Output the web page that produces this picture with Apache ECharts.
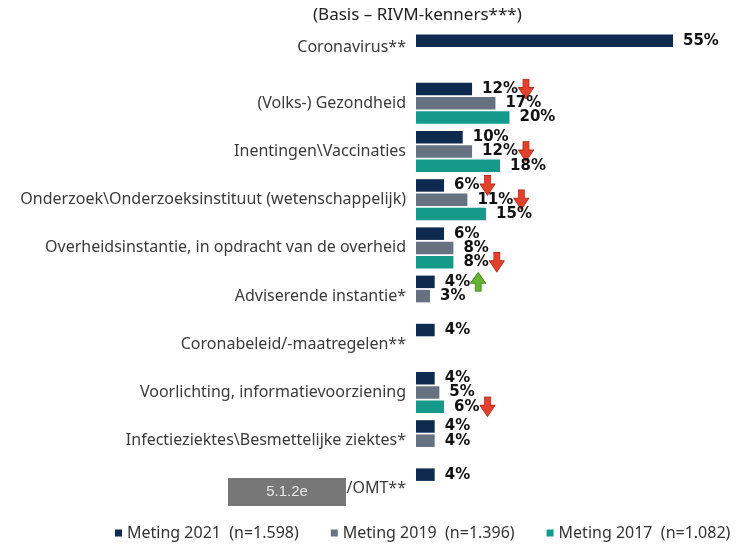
<!DOCTYPE html>
<html>
<head>
<meta charset="utf-8">
<script src="https://cdn.jsdelivr.net/npm/echarts@6/dist/echarts.min.js"></script>
<style>
  html, body { margin: 0; padding: 0; background: #fff; }
  #chart { width: 740px; height: 546px; }
</style>
</head>
<body>
<div id="chart"></div>
<script>
// categorieen (laatste label is deels weggelakt)
var categories = [
  'Coronavirus**',
  '(Volks-) Gezondheid',
  'Inentingen\\Vaccinaties',
  'Onderzoek\\Onderzoeksinstituut (wetenschappelijk)',
  'Overheidsinstantie, in opdracht van de overheid',
  'Adviserende instantie*',
  'Coronabeleid/-maatregelen**',
  'Voorlichting, informatievoorziening',
  'Infectieziektes\\Besmettelijke ziektes*',
  '/OMT**'
];

var meting2021 = [55, 12, 10, 6, 6, 4, 4, 4, 4, 4];
var meting2019 = [null, 17, 12, 11, 8, 3, null, 5, 4, null];
var meting2017 = [null, 20, 18, 15, 8, null, null, 6, null, null];

// significante verschillen: 'dn' = daling, 'up' = stijging
var pijl2021 = ['', 'dn', '', 'dn', '', 'up', '', '', '', ''];
var pijl2019 = ['', '', 'dn', 'dn', '', '', '', '', '', ''];
var pijl2017 = ['', '', '', '', 'dn', '', '', 'dn', '', ''];

var seriesNames = ['Meting 2021  (n=1.598)', 'Meting 2019  (n=1.396)', 'Meting 2017  (n=1.082)'];

(function(){

var chart = echarts.init(document.getElementById('chart'));

function svgUrl(svg) {
  return 'data:image/svg+xml;charset=utf-8,' + encodeURIComponent(svg);
}
var downImg = svgUrl('<svg xmlns="http://www.w3.org/2000/svg" width="16" height="15" viewBox="0 0 16 15">' +
  '<path d="M5 0.5H11V6.5H15.5L8 14.5L0.5 6.5H5Z" fill="#e2412b" stroke="#b3301c" stroke-width="0.8"/></svg>');
var upImg = svgUrl('<svg xmlns="http://www.w3.org/2000/svg" width="16" height="15" viewBox="0 0 16 15">' +
  '<path d="M5 14.5H11V8.5H15.5L8 0.5L0.5 8.5H5Z" fill="#66b232" stroke="#3f8a1c" stroke-width="0.8"/></svg>');

var labelRich = {
  v: { fontFamily: 'DejaVu Sans', fontWeight: 'bold', fontSize: 15, color: '#111' },
  dn: { width: 16, height: 15, backgroundColor: { image: downImg }, padding: [0, 0, 6, 0] },
  up: { width: 16, height: 15, backgroundColor: { image: upImg }, padding: [0, 0, 5, 0] }
};

function makeLabel(pijlen) {
  return {
    show: true,
    position: 'right',
    distance: 10,
    rich: labelRich,
    formatter: function (p) {
      var s = '{v|' + p.value + '%}';
      if (pijlen[p.dataIndex]) s += '{' + pijlen[p.dataIndex] + '| }';
      return s;
    }
  };
}

// eerste label staat iets hoger dan het midden
var yData = categories.map(function (c, i) {
  return i === 0 ? { value: c, textStyle: { verticalAlign: 'bottom' } } : c;
});

option = {
  animation: false,
  title: {
    text: '(Basis \u2013 RIVM-kenners***)',
    left: 308,
    top: 2,
    textStyle: { fontFamily: 'Noto Sans', fontSize: 17, fontWeight: 'normal', color: '#222' }
  },
  color: ['#0e2a4f', '#667181', '#14998a'],
  legend: {
    left: 115,
    width: 625,
    padding: 0,
    bottom: 5,
    icon: 'rect',
    itemWidth: 7,
    itemHeight: 7,
    itemGap: 32,
    textStyle: { fontFamily: 'Noto Sans', fontSize: 16, color: '#333' },
    data: seriesNames
  },
  grid: {
    left: 416,
    right: 67,
    top: 31,
    bottom: 33
  },
  xAxis: {
    type: 'value',
    min: 0,
    max: 55,
    show: false
  },
  yAxis: {
    type: 'category',
    inverse: true,
    data: yData,
    axisLine: { show: false },
    axisTick: { show: false },
    axisLabel: {
      margin: 10,
      fontFamily: 'Noto Sans',
      fontSize: 16,
      color: '#3a3a3a'
    }
  },
  series: [
    {
      name: seriesNames[0],
      type: 'bar',
      barWidth: 12.5,
      barGap: '14%',
      label: makeLabel(pijl2021),
      data: meting2021
    },
    {
      name: seriesNames[1],
      type: 'bar',
      barWidth: 12.5,
      barGap: '14%',
      label: makeLabel(pijl2019),
      data: meting2019
    },
    {
      name: seriesNames[2],
      type: 'bar',
      barWidth: 12.5,
      barGap: '14%',
      label: makeLabel(pijl2017),
      data: meting2017
    }
  ],
  graphic: [
    {
      type: 'group',
      left: 228,
      top: 478,
      z: 10,
      children: [
        { type: 'rect', shape: { x: 0, y: 0, width: 118, height: 28 }, style: { fill: '#777' } },
        { type: 'text', x: 59, y: 14, style: { text: '5.1.2e', fill: '#e8e8e8', font: '15px "Liberation Sans"', align: 'center', verticalAlign: 'middle' } }
      ]
    }
  ]
};

chart.setOption(option);
})();
</script>
</body>
</html>
